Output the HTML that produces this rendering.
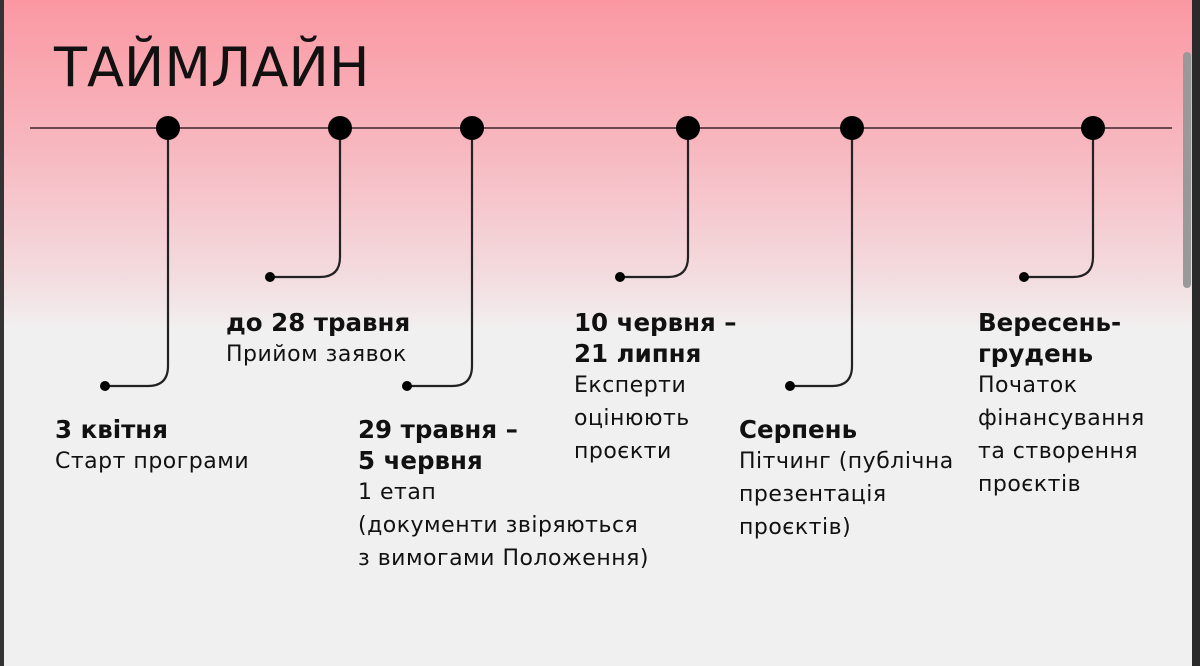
<!DOCTYPE html>
<html><head><meta charset="utf-8"><style>
body{margin:0;width:1200px;height:666px;overflow:hidden;position:relative;font-family:"DejaVu Sans","Liberation Sans",sans-serif;
background:linear-gradient(#fb98a2 0px,#f7b8c0 150px,#f3dde0 280px,#f1f0f0 330px,#f0f0f0 666px);}
.lb{position:absolute;color:#111;font-size:22px;line-height:33px;letter-spacing:0.5px;}
.lb b{font-size:24.5px;display:block;line-height:31px;letter-spacing:0;}
</style></head><body>
<div style="position:absolute;left:0;top:0;width:4px;height:666px;background:#333"></div>
<div style="position:absolute;right:0;top:0;width:8px;height:666px;background:#2a2a2a"></div>
<div style="position:absolute;left:1183px;top:52px;width:8px;height:236px;background:#999;border-radius:4px"></div>
<div style="position:absolute;left:54px;top:36px;font-size:54px;color:#111;font-family:'DejaVu Sans',sans-serif;">ТАЙМЛАЙН</div>
<svg width="1200" height="666" style="position:absolute;left:0;top:0" fill="none" stroke="#222" stroke-width="2.2">
<line x1="30" y1="128" x2="1172" y2="128" stroke="#553a40" stroke-width="1.8"/>
<path d="M168 128 V366 Q168 386 148 386 H105"/>
<path d="M340 128 V257 Q340 277 320 277 H270"/>
<path d="M472 128 V366 Q472 386 452 386 H407"/>
<path d="M688 128 V257 Q688 277 668 277 H620"/>
<path d="M852 128 V366 Q852 386 832 386 H790"/>
<path d="M1093 128 V257 Q1093 277 1073 277 H1024"/>
<g fill="#000" stroke="none">
<circle cx="168" cy="128" r="12"/><circle cx="340" cy="128" r="12"/><circle cx="472" cy="128" r="12"/>
<circle cx="688" cy="128" r="12"/><circle cx="852" cy="128" r="12"/><circle cx="1093" cy="128" r="12"/>
<circle cx="105" cy="386" r="5"/><circle cx="270" cy="277" r="5"/><circle cx="407" cy="386" r="5"/>
<circle cx="620" cy="277" r="5"/><circle cx="790" cy="386" r="5"/><circle cx="1024" cy="277" r="5"/>
</g></svg>
<div class="lb" style="left:55px;top:414px"><b>3 квітня</b>Старт програми</div>
<div class="lb" style="left:226px;top:307px"><b>до 28 травня</b>Прийом заявок</div>
<div class="lb" style="left:358px;top:414px"><b>29 травня –<br>5 червня</b>1 етап<br>(документи звіряються<br>з вимогами Положення)</div>
<div class="lb" style="left:574px;top:307px"><b>10 червня –<br>21 липня</b>Експерти<br>оцінюють<br>проєкти</div>
<div class="lb" style="left:739px;top:414px"><b>Серпень</b>Пітчинг (публічна<br>презентація<br>проєктів)</div>
<div class="lb" style="left:978px;top:307px"><b>Вересень-<br>грудень</b>Початок<br>фінансування<br>та створення<br>проєктів</div>
</body></html>
